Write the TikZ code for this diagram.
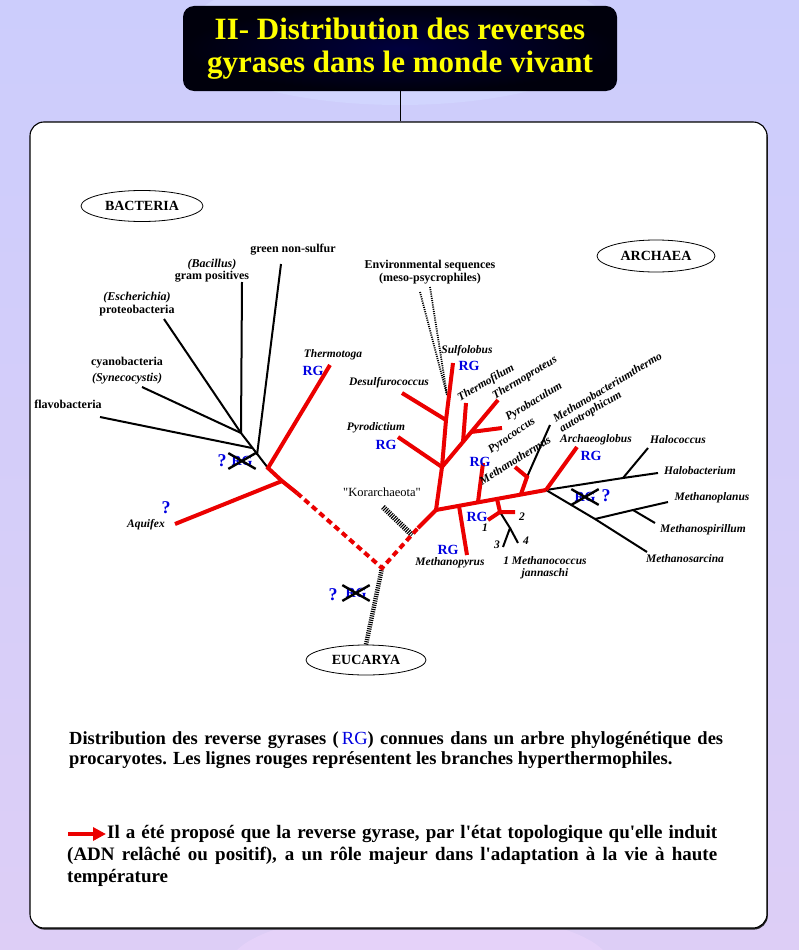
\documentclass[tikz,border=0pt]{standalone}
\usepackage{fontspec}
\setmainfont{Liberation Serif}[Ligatures=TeXOff]
\usetikzlibrary{arrows.meta,shapes.geometric,shadows}

\definecolor{hotred}{RGB}{235,0,0}
\definecolor{rgblue}{RGB}{0,0,225}
\definecolor{titleyellow}{RGB}{255,255,0}
\definecolor{bgtop}{RGB}{204,205,252}
\definecolor{bgbot}{RGB}{221,206,246}
\definecolor{glowtop}{RGB}{209,213,254}
\definecolor{glowbot}{RGB}{229,210,249}

\tikzset{
  hot/.style={hotred,line width=4pt},
  hotdash/.style={hotred,line width=4pt,dash pattern=on 6pt off 4pt},
  meso/.style={black,line width=2pt},
  hatch/.style={black,line width=#1,dash pattern=on 1.1pt off 1.1pt},
  cross/.style={black,line width=2.4pt},
  domainoval/.style={draw,ellipse,line width=0.8pt,fill=white,inner sep=0pt,
    minimum width=122pt,minimum height=31pt,font=\bfseries\fontsize{14}{14}\selectfont},
  grp/.style={font=\bfseries\fontsize{12}{12.5}\selectfont,align=center,inner sep=0pt},
  taxon/.style={font=\bfseries\itshape\fontsize{11.5}{12}\selectfont,align=center,inner sep=0pt},
  rg/.style={text=rgblue,font=\bfseries\fontsize{14}{14}\selectfont,inner sep=0pt},
  rgx/.style={rg,inner sep=3pt},
  quest/.style={text=rgblue,font=\bfseries\fontsize{18}{18}\selectfont,inner sep=0pt},
  note/.style={text width=654pt,align=justify,inner sep=0pt,anchor=north west,
    font=\bfseries\fontsize{18.5}{20}\selectfont}
}

\begin{document}
\begin{tikzpicture}[x=1pt,y=-1pt]
\useasboundingbox (0,0) rectangle (799,950);
% page background
\shade[top color=bgtop,bottom color=bgbot] (0,0) rectangle (799,950);
\fill[glowtop] (400,35) ellipse[x radius=215pt,y radius=70pt];
\fill[glowbot] (420,965) ellipse[x radius=190pt,y radius=55pt];

% title and frame
\node[rounded corners=11pt,minimum width=434pt,minimum height=85pt,
  inner color={rgb,255:red,0;green,0;blue,62},outer color={rgb,255:red,0;green,0;blue,12},
  text=titleyellow,font=\bfseries\fontsize{31}{33}\selectfont,align=center]
  (title) at (400,48.5) {II- Distribution des reverses\\gyrases dans le monde vivant};
\node[draw,line width=1.1pt,fill=white,rounded corners=14pt,
  minimum width=737pt,minimum height=806pt,
  drop shadow={shadow xshift=0.8pt,shadow yshift=-1.6pt,fill=black!85,opacity=1}]
  (panel) at (398.5,525) {};
\draw[line width=0.8pt] (title.south) -- (title.south |- panel.north);

% domains
\node[domainoval] (bacteria) at (142,206) {BACTERIA};
\node[domainoval,minimum width=118pt,minimum height=32pt] (archaea) at (656,256) {ARCHAEA};
\node[domainoval,minimum width=120pt,minimum height=30pt] (eucarya) at (366,660) {EUCARYA};

% tree points
\coordinate (bA) at (241,433);
\coordinate (bF) at (252,448);
\coordinate (bG) at (257,455);
\coordinate (bRoot) at (268,468);
\coordinate (gram) at (242,282);
\coordinate (proteo) at (164,319);
\coordinate (cyano) at (142,387);
\coordinate (flavo) at (100,417);
\coordinate (green) at (281,264);
\coordinate (thermotoga) at (330,365);
\coordinate (aqJ) at (282,481);
\coordinate (aquifex) at (175,524);
\coordinate (dashA) at (297,493);
\coordinate (root) at (382,568);
\coordinate (dashB) at (418,528);
\coordinate (aBase) at (436,510);
\coordinate (aT1) at (442,467);
\coordinate (aT2) at (446,420);
\coordinate (sulfolobus) at (453,363);
\coordinate (desulfo) at (402,393);
\coordinate (pyrodict) at (398,437);
\coordinate (aC1) at (463,442);
\coordinate (aC2) at (471,432);
\coordinate (thermoprot) at (498,400);
\coordinate (thermofil) at (466,403);
\coordinate (pyrobac) at (502,428);
\coordinate (e1) at (459,506);
\coordinate (e2) at (478,502);
\coordinate (e3) at (497,499);
\coordinate (e4) at (521,494);
\coordinate (e5) at (546,490);
\coordinate (mpyrus) at (467,555);
\coordinate (pyrococ) at (483,463);
\coordinate (mJ) at (500,512);
\coordinate (m1) at (488,520);
\coordinate (m2) at (515,512);
\coordinate (m34) at (510,528);
\coordinate (m3) at (503,547);
\coordinate (m4) at (518,543);
\coordinate (mtJ) at (527,477);
\coordinate (mtherm) at (515,467);
\coordinate (mbact) at (550,425);
\coordinate (archaeo) at (577,447);
\coordinate (h1) at (623,478);
\coordinate (halobact) at (658,473);
\coordinate (halococ) at (648,448);
\coordinate (s1) at (595,519);
\coordinate (s2) at (633,510);
\coordinate (mplanus) at (668,502);
\coordinate (mspir) at (655,523);
\coordinate (msarc) at (647,552);
\coordinate (envA) at (420,292);
\coordinate (envB) at (430,287);
\coordinate (envJ) at (447,395);
\coordinate (korA) at (383,507);
\coordinate (korB) at (412,535);

% mesophile branches
\draw[meso] (gram) -- (bA);
\draw[meso] (proteo) -- (bA);
\draw[meso] (cyano) -- (bA);
\draw[meso] (flavo) -- (bF);
\draw[meso] (green) -- (bG);
\draw[meso] (bA) -- (bRoot);
\draw[hatch=1.8pt] (envA) -- (envJ);
\draw[hatch=1.8pt] (envB) -- (envJ);
\draw[hatch=5.5pt] (korA) -- (korB);
\draw[hatch=4.5pt] (root) -- (eucarya.north);
\draw[meso] (mJ) -- (m34) -- (m3);
\draw[meso] (m34) -- (m4);
\draw[meso] (mtJ) -- (mbact);
\draw[meso] (e5) -- (h1) -- (halobact);
\draw[meso] (h1) -- (halococ);
\draw[meso] (e5) -- (s1) -- (msarc);
\draw[meso] (s1) -- (s2) -- (mplanus);
\draw[meso] (s2) -- (mspir);

% hyperthermophile branches
\draw[hot] (thermotoga) -- (bRoot) -- (aqJ) -- (dashA);
\draw[hot] (aquifex) -- (aqJ);
\draw[hotdash] (dashA) -- (root) -- (dashB);
\draw[hot] (dashB) -- (aBase) -- (aT1) -- (aT2) -- (sulfolobus);
\draw[hot] (desulfo) -- (aT2);
\draw[hot] (pyrodict) -- (aT1);
\draw[hot] (aT1) -- (thermoprot);
\draw[hot] (aC1) -- (thermofil);
\draw[hot] (aC2) -- (pyrobac);
\draw[hot] (aBase) -- (e5);
\draw[hot] (e1) -- (mpyrus);
\draw[hot] (e2) -- (pyrococ);
\draw[hot] (e3) -- (mJ);
\draw[hot] (m1) -- (mJ) -- (m2);
\draw[hot] (e4) -- (mtJ) -- (mtherm);
\draw[hot] (e5) -- (archaeo);

% bacteria labels
\node[grp] (lgreen) at (293,250) {green non-sulfur};
\node[grp] (lgram) at (212,270.5) {\textit{(Bacillus)}\\gram positives};
\node[grp] (lproteo) at (137,304) {\textit{(Escherichia)}\\proteobacteria};
\node[grp] (lcyano) at (127,370.5) {cyanobacteria\\[4pt]\textit{(Synecocystis)}};
\node[grp] (lflavo) at (68,404) {flavobacteria};
\node[taxon] (lthermotoga) at (333,355) {Thermotoga};
\node[rg] (rgthermotoga) at (313,371) {RG};
\node[taxon] (laquifex) at (146,525) {Aquifex};
\node[quest] (qaquifex) at (166,508) {?};
\node[quest] (qbact) at (222,461) {?};
\node[rgx] (rgbact) at (242,461) {RG};
\draw[cross] (rgbact.north west) -- (rgbact.south east);
\draw[cross] (rgbact.south west) -- (rgbact.north east);

% eucarya
\node[quest] (qeuc) at (333,595) {?};
\node[rgx] (rgeuc) at (356,593) {RG};
\draw[cross] (rgeuc.north west) -- (rgeuc.south east);
\draw[cross] (rgeuc.south west) -- (rgeuc.north east);

% archaea labels
\node[grp] (lenv) at (430,272) {Environmental sequences\\(meso-psycrophiles)};
\node[font=\fontsize{12.5}{13}\selectfont,inner sep=0pt] (lkor) at (382,492) {"Korarchaeota"};
\node[taxon] (lsulfo) at (467,351) {Sulfolobus};
\node[rg] (rgsulfo) at (469,366) {RG};
\node[taxon] (ldesulfo) at (389,383) {Desulfurococcus};
\node[taxon] (lpyrodict) at (376,428) {Pyrodictium};
\node[rg] (rgpyrodict) at (386,445) {RG};
\node[taxon,rotate=30] (lthermofil) at (486,383) {Thermofilum};
\node[taxon,rotate=31] (lthermoprot) at (525,378) {Thermoproteus};
\node[taxon,rotate=31] (lpyrobac) at (534,402) {Pyrobaculum};
\node[taxon,rotate=35] (lpyrococ) at (512,436) {Pyrococcus};
\node[rg] (rgpyrococ) at (480,462) {RG};
\node[taxon,rotate=32] (lmtherm) at (515,460) {Methanothermus};
\node[taxon,rotate=31,align=left] (lmbact) at (611,393) {Methanobacteriumthermo\\autotrophicum};
\node[taxon] (larchaeo) at (596,440) {Archaeoglobus};
\node[rg] (rgarchaeo) at (591,456) {RG};
\node[rg] (rgmcoc) at (477,517) {RG};
\node[taxon] (n1) at (485,528) {1};
\node[taxon] (n2) at (522,517) {2};
\node[taxon] (n3) at (497,545) {3};
\node[taxon] (n4) at (526,541) {4};
\node[taxon] (lmcoc) at (545,567.5) {1 Methanococcus\\jannaschi};
\node[rg] (rgmpyrus) at (448,550) {RG};
\node[taxon] (lmpyrus) at (450,563) {Methanopyrus};
\node[taxon] (lhalococ) at (678,440) {Halococcus};
\node[taxon] (lhalobact) at (700,471) {Halobacterium};
\node[taxon] (lmplanus) at (712,498) {Methanoplanus};
\node[taxon] (lmspir) at (703,530) {Methanospirillum};
\node[taxon] (lmsarc) at (685,559) {Methanosarcina};
\node[rgx] (rgeury) at (585,497) {RG};
\node[quest] (qeury) at (606,496) {?};
\draw[cross] (rgeury.north west) -- (rgeury.south east);
\draw[cross] (rgeury.south west) -- (rgeury.north east);

% legend text
\node[note] (legend) at (69,731) {\noindent Distribution des reverse gyrases (\,{\mdseries\color{rgblue}RG}) connues dans un arbre phylogénétique des procaryotes. Les lignes rouges représentent les branches hyperthermophiles.};
\node[note,text width=650pt,font=\bfseries\fontsize{19}{22}\selectfont] (claim) at (67,825) {\noindent\hyphenpenalty=10000\exhyphenpenalty=10000\hspace*{40pt}Il a été proposé que la reverse gyrase, par l'état topologique qu'elle induit\linebreak (ADN relâché ou positif), a un rôle majeur dans l'adaptation à la vie à haute\linebreak température};
\coordinate (arrTail) at (68,834);
\coordinate (arrTip) at (106,834);
\draw[hotred,line width=3.5pt,-{Triangle[length=13pt,width=13pt]}] (arrTail) -- (arrTip);
\end{tikzpicture}
\end{document}
